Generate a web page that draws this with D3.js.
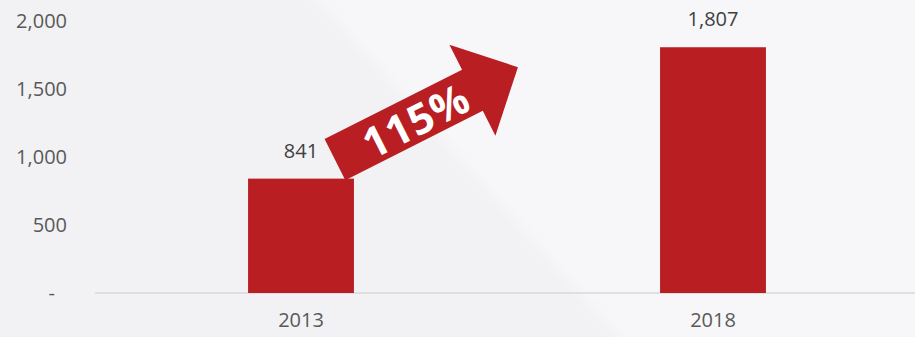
<!DOCTYPE html>
<html>
<head>
<meta charset="utf-8">
<script src="https://cdn.jsdelivr.net/npm/d3@7"></script>
<style>
  html, body { margin: 0; padding: 0; background: #f3f3f5; }
  svg { display: block; font-family: "Open Sans", "Noto Sans", sans-serif; }
</style>
</head>
<body>
<svg id="chart" width="915" height="337"></svg>
<script>
// Revenue by year
const years = ["2013", "2018"];
const values = [841, 1807];
const yTicks = [0, 500, 1000, 1500, 2000];

const W = 915, H = 337;
const barColor = "#b81e22";
const labelSize = 20;

const svg = d3.select("#chart");

// Background: two soft tones split along a diagonal
const defs = svg.append("defs");
defs.append("filter").attr("id", "soft")
  .append("feGaussianBlur").attr("stdDeviation", 6);
svg.append("rect").attr("width", W).attr("height", H).attr("fill", "#f2f2f4");
svg.append("path")
  .attr("d", "M300,-20 L940,-20 L940,360 L640,360 Z")
  .attr("fill", "#f7f7f9")
  .attr("filter", "url(#soft)");

const x = d3.scaleBand()
  .domain(years)
  .range([95, 919])
  .paddingInner(0.743)
  .paddingOuter(0.3715);

const y = d3.scaleLinear()
  .domain([0, 2000])
  .range([293, 21]);

// Y axis labels (zero shown as a dash)
const yAxis = d3.axisLeft(y)
  .tickValues(yTicks)
  .tickSize(0)
  .tickPadding(0)
  .tickFormat(d => d === 0 ? "-" : d3.format(",")(d));

const gy = svg.append("g")
  .attr("transform", "translate(67,0)")
  .call(yAxis);
gy.select(".domain").remove();
gy.selectAll("text")
  .attr("font-size", labelSize)
  .attr("fill", "#595959")
  .attr("font-family", "Open Sans, Noto Sans, sans-serif");
gy.selectAll(".tick")
  .filter(d => d === 0)
  .select("text")
  .attr("dx", -12);

// Baseline
svg.append("line")
  .attr("x1", 95).attr("x2", W)
  .attr("y1", y(0)).attr("y2", y(0))
  .attr("stroke", "#d9d9d9")
  .attr("stroke-width", 1.5);

// X axis labels
const xAxis = d3.axisBottom(x).tickSize(0).tickPadding(20);
const gx = svg.append("g")
  .attr("transform", `translate(0,${y(0)})`)
  .call(xAxis);
gx.select(".domain").remove();
gx.selectAll("text")
  .attr("font-size", labelSize)
  .attr("fill", "#595959")
  .attr("font-family", "Open Sans, Noto Sans, sans-serif");

// Bars
const data = years.map((yr, i) => ({ year: yr, value: values[i] }));
svg.append("g").selectAll("rect")
  .data(data)
  .join("rect")
  .attr("x", d => x(d.year))
  .attr("y", d => y(d.value))
  .attr("width", x.bandwidth())
  .attr("height", d => y(0) - y(d.value))
  .attr("fill", barColor);

// Value labels
svg.append("g").selectAll("text")
  .data(data)
  .join("text")
  .attr("x", d => x(d.year) + x.bandwidth() / 2)
  .attr("y", d => y(d.value) - 21)
  .attr("text-anchor", "middle")
  .attr("font-size", labelSize)
  .attr("fill", "#404040")
  .text(d => d3.format(",")(d.value));

// Growth arrow, starting at the top-right corner of the first bar
const growth = values[1] / values[0] - 1;
const ox = x(years[0]) + x.bandwidth() - 19;
const oy = y(values[0]) - 19;
const angle = -26.8;

const arrow = svg.append("g")
  .attr("transform", `translate(${ox},${oy}) rotate(${angle})`);

const shaftHalf = 23, headBack = 154, headHalf = 51, tipX = 205;
arrow.append("path")
  .attr("d", d3.line()([
    [0, -shaftHalf],
    [headBack, -shaftHalf],
    [headBack, -headHalf],
    [tipX, 0],
    [headBack, headHalf],
    [headBack, shaftHalf],
    [0, shaftHalf]
  ]) + "Z")
  .attr("fill", barColor);

arrow.append("text")
  .attr("x", 90)
  .attr("y", 17)
  .attr("text-anchor", "middle")
  .attr("font-size", 42)
  .attr("font-weight", 700)
  .attr("letter-spacing", 1)
  .attr("fill", "#ffffff")
  .text(d3.format(".0%")(growth));
</script>
</body>
</html>
